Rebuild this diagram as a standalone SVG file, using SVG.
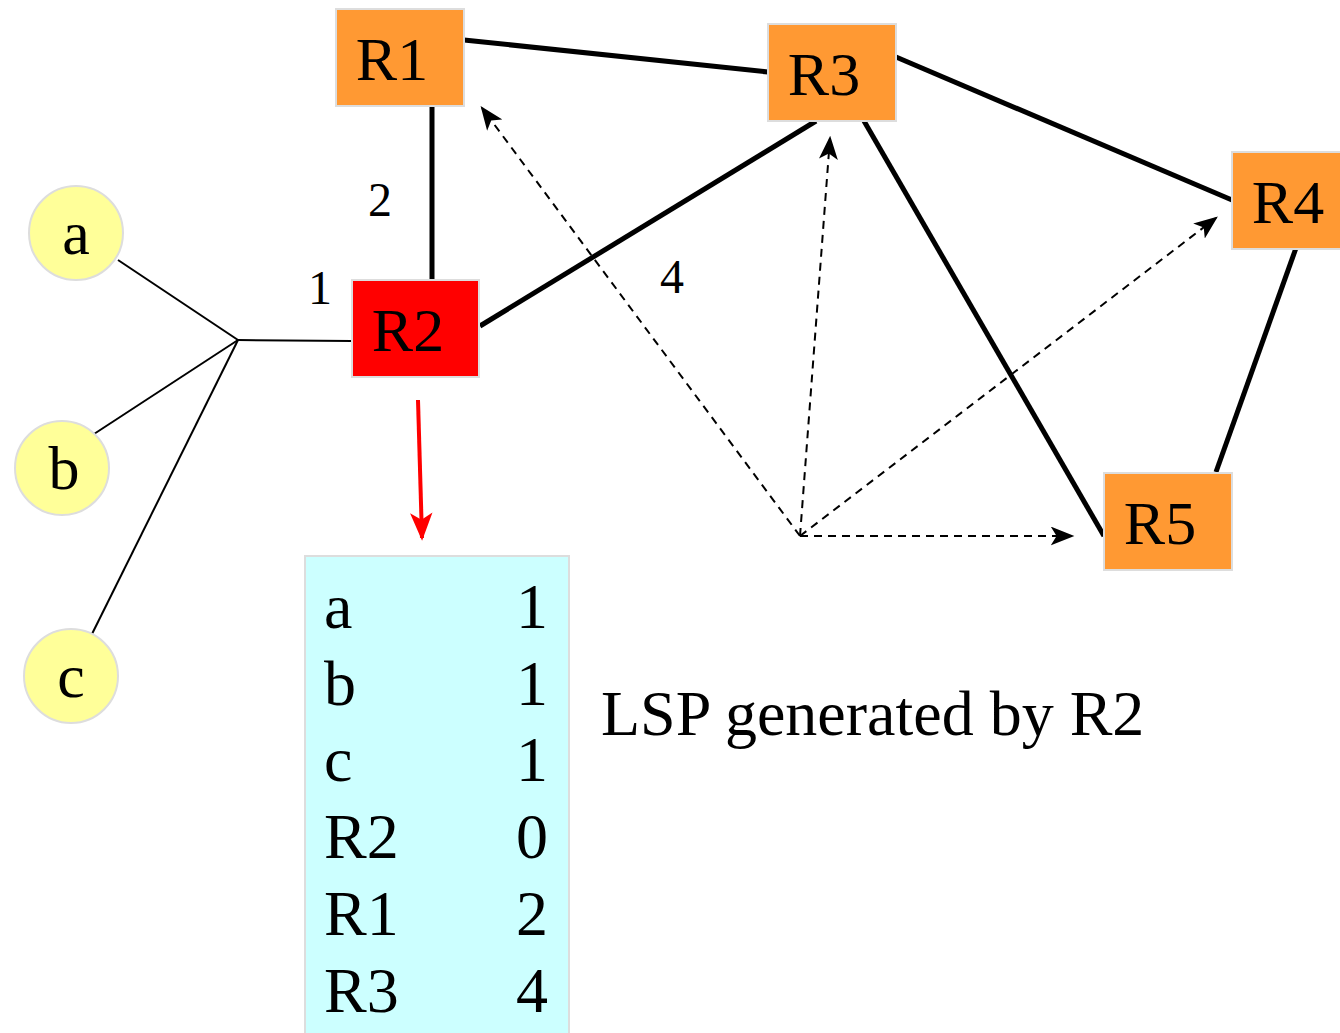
<svg xmlns="http://www.w3.org/2000/svg" width="1340" height="1033" viewBox="0 0 1340 1033">
  <style>
    .router { fill: #ff9933; stroke: #dddddd; stroke-width: 2; }
    .router.self { fill: #ff0000; }
    .host { fill: #ffff99; stroke: #dddddd; stroke-width: 2; }
    .lbl { font-family: "Liberation Serif", "Times New Roman", serif; font-size: 62px; fill: #000; text-anchor: middle; }
    .cost { font-family: "Liberation Serif", "Times New Roman", serif; font-size: 48px; fill: #000; text-anchor: middle; }
    .tbl { font-family: "Liberation Serif", "Times New Roman", serif; font-size: 64px; fill: #000; }
    .link { stroke: #000; stroke-width: 5; fill: none; }
    .lan { stroke: #000; stroke-width: 2; fill: none; }
    .flood { stroke: #000; stroke-width: 2; stroke-dasharray: 8 6; fill: none; marker-end: url(#head); }
  </style>
  <defs>
    <marker id="head" viewBox="0 0 20 16" refX="18" refY="8" markerWidth="24" markerHeight="19" markerUnits="userSpaceOnUse" orient="auto">
      <path d="M0,0 L20,8 L0,16 L5,8 Z" fill="#000"/>
    </marker>
    <marker id="redhead" viewBox="0 0 20 16" refX="18" refY="8" markerWidth="28" markerHeight="24" markerUnits="userSpaceOnUse" orient="auto">
      <path d="M0,0 L20,8 L0,16 L5,8 Z" fill="#ff0000"/>
    </marker>
  </defs>

  <g id="connectors">
    <!-- router links -->
    <line class="link" x1="464" y1="40" x2="768" y2="72"/>
    <line class="link" x1="432" y1="106" x2="432" y2="280"/>
    <line class="link" x1="480" y1="326" x2="816" y2="121"/>
    <line class="link" x1="896" y1="57" x2="1232" y2="200"/>
    <line class="link" x1="864" y1="121" x2="1104" y2="536"/>
    <line class="link" x1="1296" y1="248" x2="1216" y2="472"/>
    <!-- LAN to hosts -->
    <line class="lan" x1="238" y1="340" x2="352" y2="341"/>
    <line class="lan" x1="238" y1="340" x2="118" y2="260"/>
    <line class="lan" x1="238" y1="340" x2="94" y2="434"/>
    <line class="lan" x1="238" y1="340" x2="92" y2="634"/>
    <!-- flooding of the LSP -->
    <line class="flood" x1="800" y1="536" x2="482" y2="108"/>
    <line class="flood" x1="800" y1="536" x2="830" y2="138"/>
    <line class="flood" x1="800" y1="536" x2="1216" y2="218"/>
    <line class="flood" x1="800" y1="536" x2="1072" y2="536"/>
    <!-- R2 produces the LSP -->
    <line x1="418" y1="400" x2="422" y2="538" stroke="#ff0000" stroke-width="4" marker-end="url(#redhead)"/>
  </g>

  <g id="cost-labels">
    <text class="cost" x="380" y="216">2</text>
    <text class="cost" x="320" y="304">1</text>
    <text class="cost" x="672" y="293">4</text>
  </g>

  <g id="R1"><rect class="router" x="336" y="9" width="128" height="97"/><text class="lbl" x="392" y="80">R1</text></g>
  <g id="R2"><rect class="router self" x="352" y="280" width="127" height="97"/><text class="lbl" x="408" y="351">R2</text></g>
  <g id="R3"><rect class="router" x="768" y="24" width="128" height="97"/><text class="lbl" x="824" y="95">R3</text></g>
  <g id="R4"><rect class="router" x="1232" y="152" width="110" height="97"/><text class="lbl" x="1288" y="223">R4</text></g>
  <g id="R5"><rect class="router" x="1104" y="473" width="128" height="97"/><text class="lbl" x="1160" y="544">R5</text></g>

  <g id="a"><circle class="host" cx="76" cy="233" r="47"/><text class="lbl" x="76" y="254">a</text></g>
  <g id="b"><circle class="host" cx="62" cy="468" r="47"/><text class="lbl" x="64" y="489">b</text></g>
  <g id="c"><circle class="host" cx="71" cy="676" r="47"/><text class="lbl" x="71" y="697">c</text></g>

  <g id="lsp-table">
    <rect x="305" y="556" width="264" height="490" fill="#ccffff" stroke="#dddddd" stroke-width="2"/>
    <text class="tbl" x="324" y="628">a</text>
    <text class="tbl" x="324" y="705">b</text>
    <text class="tbl" x="324" y="781">c</text>
    <text class="tbl" x="324" y="858">R2</text>
    <text class="tbl" x="324" y="935">R1</text>
    <text class="tbl" x="324" y="1012">R3</text>
    <g text-anchor="end">
      <text class="tbl" x="548" y="628">1</text>
      <text class="tbl" x="548" y="705">1</text>
      <text class="tbl" x="548" y="781">1</text>
      <text class="tbl" x="548" y="858">0</text>
      <text class="tbl" x="548" y="935">2</text>
      <text class="tbl" x="548" y="1012">4</text>
    </g>
  </g>

  <text id="caption" class="tbl" x="601" y="735" font-size="60">LSP generated by R2</text>
</svg>
